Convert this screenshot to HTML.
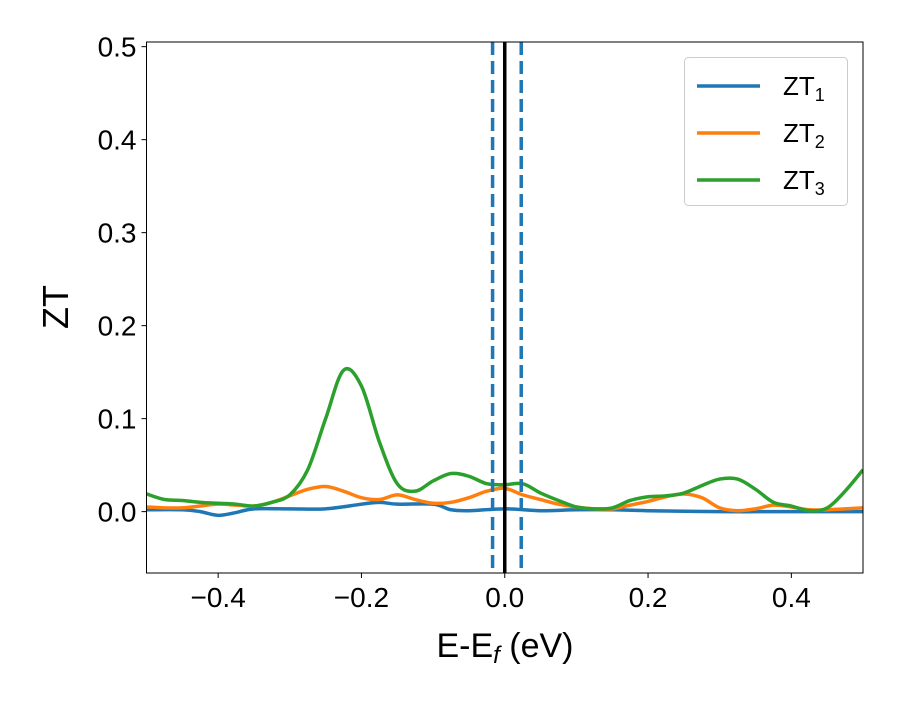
<!DOCTYPE html>
<html><head><meta charset="utf-8"><style>
body{margin:0;background:#fff;}
svg text{font-family:"Liberation Sans","DejaVu Sans",sans-serif;}
</style></head><body>
<svg id="chart" width="900" height="700" xmlns="http://www.w3.org/2000/svg">
<rect width="900" height="700" fill="#fff"/>
<g id="plot"></g>
<g id="axes"></g>
</svg>
<script>
const xTicks=[-0.4,-0.2,0.0,0.2,0.4];
const xTickLabels=["\u22120.4","\u22120.2","0.0","0.2","0.4"];
const yTicks=[0,0.1,0.2,0.3,0.4,0.5];
const yTickLabels=["0.0","0.1","0.2","0.3","0.4","0.5"];
const zt1X=[-0.5,-0.45,-0.425,-0.4,-0.375,-0.35,-0.3,-0.25,-0.2,-0.175,-0.15,-0.1,-0.075,-0.05,0,0.05,0.1,0.15,0.2,0.3,0.4,0.5];
const zt1Y=[0.002,0.002,0.000,-0.004,-0.001,0.003,0.003,0.003,0.008,0.010,0.008,0.008,0.002,0.001,0.003,0.001,0.002,0.002,0.001,0.000,0.000,0.000];
const zt2X=[-0.5,-0.475,-0.45,-0.425,-0.4,-0.375,-0.35,-0.325,-0.3,-0.275,-0.25,-0.225,-0.2,-0.175,-0.15,-0.125,-0.1,-0.075,-0.05,-0.025,0,0.025,0.05,0.075,0.1,0.125,0.15,0.175,0.2,0.225,0.25,0.275,0.3,0.325,0.35,0.375,0.4,0.425,0.45,0.475,0.5];
const zt2Y=[0.005,0.004,0.004,0.006,0.008,0.007,0.006,0.010,0.017,0.024,0.027,0.022,0.015,0.013,0.018,0.013,0.009,0.010,0.015,0.022,0.025,0.018,0.013,0.008,0.005,0.003,0.003,0.007,0.011,0.016,0.019,0.015,0.004,0.001,0.003,0.007,0.005,0.002,0.002,0.003,0.004];
const zt3X=[-0.5,-0.475,-0.45,-0.425,-0.4,-0.375,-0.35,-0.325,-0.3,-0.275,-0.25,-0.225,-0.2,-0.175,-0.15,-0.125,-0.1,-0.075,-0.05,-0.025,0,0.025,0.05,0.075,0.1,0.125,0.15,0.175,0.2,0.225,0.25,0.275,0.3,0.325,0.35,0.375,0.4,0.425,0.45,0.475,0.5];
const zt3Y=[0.019,0.013,0.012,0.010,0.009,0.008,0.006,0.010,0.018,0.045,0.100,0.152,0.135,0.075,0.030,0.022,0.033,0.041,0.038,0.030,0.029,0.030,0.020,0.012,0.005,0.003,0.004,0.012,0.016,0.017,0.020,0.028,0.035,0.035,0.024,0.010,0.006,0.001,0.004,0.022,0.045];
const vlinesDashed=[-0.017,0.023];
const vlineSolid=[0.0];

const L=146.5,R=863,T=42,B=573;
const xMin=-0.5,xMax=0.5,yMin=-0.066,yMax=0.505;
const sx=v=>L+(v-xMin)/(xMax-xMin)*(R-L);
const sy=v=>B-(v-yMin)/(yMax-yMin)*(B-T);
const NS="http://www.w3.org/2000/svg";
const plot=document.getElementById('plot'),axes=document.getElementById('axes');
function mk(tag,parent,attrs){const e=document.createElementNS(NS,tag);for(const k in attrs)e.setAttribute(k,attrs[k]);parent.appendChild(e);return e;}
// clip
const defs=mk('defs',plot,{});const cp=mk('clipPath',defs,{id:'clip'});mk('rect',cp,{x:L,y:T,width:R-L,height:B-T});
const g=mk('g',plot,{'clip-path':'url(#clip)'});
function smooth(xs,ys){const p=xs.map((x,i)=>[sx(x),sy(ys[i])]);let d=`M${p[0][0]},${p[0][1]}`;
for(let i=0;i<p.length-1;i++){const p0=p[Math.max(0,i-1)],p1=p[i],p2=p[i+1],p3=p[Math.min(p.length-1,i+2)];
const c1=[p1[0]+(p2[0]-p0[0])/6,p1[1]+(p2[1]-p0[1])/6],c2=[p2[0]-(p3[0]-p1[0])/6,p2[1]-(p3[1]-p1[1])/6];
d+=`C${c1[0]},${c1[1]} ${c2[0]},${c2[1]} ${p2[0]},${p2[1]}`;}return d;}
const series=[[zt1X,zt1Y,'#1f77b4','zt1-line'],[zt2X,zt2Y,'#ff7f0e','zt2-line'],[zt3X,zt3Y,'#2ca02c','zt3-line']];
series.forEach(s=>{const e=mk('path',g,{d:smooth(s[0],s[1]),fill:'none',stroke:s[2],'stroke-width':3.5,'stroke-linejoin':'round'});

});
vlinesDashed.forEach((v,i)=>{const e=mk('line',g,{x1:sx(v),x2:sx(v),y1:T,y2:B,stroke:'#1f77b4','stroke-width':3.5,'stroke-dasharray':'13,6'});

});
vlineSolid.forEach(v=>{const e=mk('line',g,{x1:sx(v),x2:sx(v),y1:T,y2:B,stroke:'#000','stroke-width':3.5});

});
// frame
const fr=mk('rect',axes,{x:L,y:T,width:R-L,height:B-T,fill:'none',stroke:'#000','stroke-width':1});


xTicks.forEach((v,i)=>{mk('line',axes,{x1:sx(v),x2:sx(v),y1:B,y2:B+5,stroke:'#000'});
const t=mk('text',axes,{x:sx(v),y:B+34,'text-anchor':'middle','font-size':28});t.textContent=xTickLabels[i];

});
yTicks.forEach((v,i)=>{mk('line',axes,{x1:L-5,x2:L,y1:sy(v),y2:sy(v),stroke:'#000'});
const t=mk('text',axes,{x:L-10,y:sy(v)+10,'text-anchor':'end','font-size':28});t.textContent=yTickLabels[i];

});
</script>
<svg width="900" height="700" style="position:absolute;left:0;top:0" xmlns="http://www.w3.org/2000/svg">
<text x="505" y="657" text-anchor="middle" font-size="34" font-family="Liberation Sans, sans-serif">E-E<tspan font-style="italic" font-size="24" dy="6">f</tspan><tspan dy="-6"> (eV)</tspan></text>
<text transform="translate(68,307) rotate(-90)" text-anchor="middle" font-size="36" font-family="Liberation Sans, sans-serif">ZT</text>
<g>
<rect x="684.5" y="57.5" width="163" height="148" rx="4" fill="#fff" fill-opacity="0.8" stroke="#ccc"/>
<g><line x1="697" x2="760" y1="86" y2="86" stroke="#1f77b4" stroke-width="3.5"/><text x="783" y="95" font-size="26" font-family="Liberation Sans, sans-serif">ZT<tspan font-size="18" dy="6">1</tspan></text></g>
<g><line x1="697" x2="760" y1="133" y2="133" stroke="#ff7f0e" stroke-width="3.5"/><text x="783" y="142" font-size="26" font-family="Liberation Sans, sans-serif">ZT<tspan font-size="18" dy="6">2</tspan></text></g>
<g><line x1="697" x2="760" y1="180" y2="180" stroke="#2ca02c" stroke-width="3.5"/><text x="783" y="189" font-size="26" font-family="Liberation Sans, sans-serif">ZT<tspan font-size="18" dy="6">3</tspan></text></g>
</g>
</svg>
<style>body{position:relative;}</style>
</body></html>
